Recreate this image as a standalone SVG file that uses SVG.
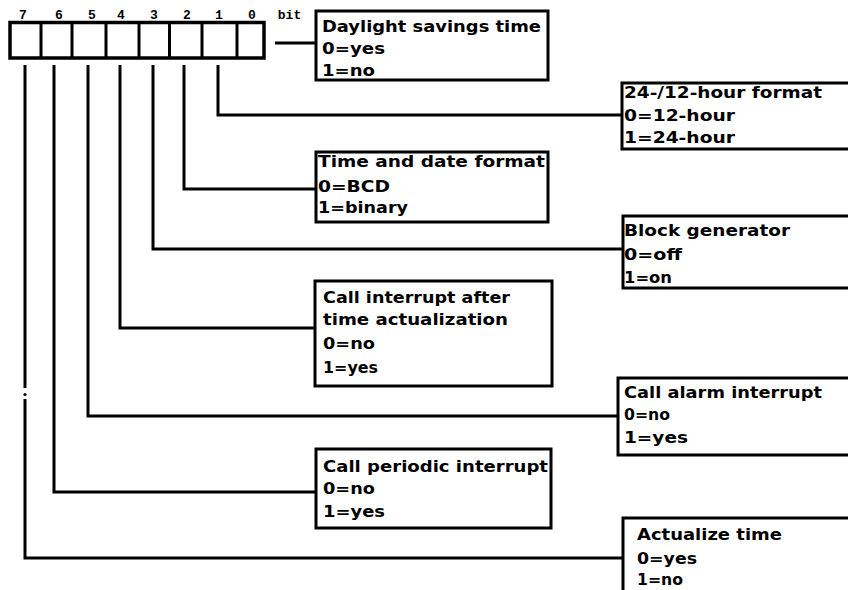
<svg xmlns="http://www.w3.org/2000/svg" width="848" height="590" viewBox="0 0 848 590">
<style>
.box{fill:#fff;stroke:#000;stroke-width:3}
.ln{fill:none;stroke:#000;stroke-width:3;stroke-linejoin:miter}
.t{font-family:"DejaVu Sans","Liberation Sans",Arial,sans-serif;font-weight:bold;font-size:15px;fill:#000}
.b{font-family:"Liberation Mono","Courier New",monospace;font-weight:bold;font-size:13px;fill:#000;text-anchor:middle}
</style>
<rect width="848" height="590" fill="#fff"/>
<g id="register">
<rect x="10" y="22.5" width="254" height="35.5" fill="#fff" stroke="#000" stroke-width="3.5"/>
<path class="ln" stroke-width="4" d="M41 22V58M72 22V58M106 22V58M139 22V58M169.5 22V58M202 22V58M237 22V58"/>
<text class="b" x="23" y="19">7</text>
<text class="b" x="59" y="19">6</text>
<text class="b" x="92" y="19">5</text>
<text class="b" x="121" y="19">4</text>
<text class="b" x="154" y="19">3</text>
<text class="b" x="187" y="19">2</text>
<text class="b" x="219" y="19">1</text>
<text class="b" x="252" y="19">0</text>
<text class="b" x="289.5" y="19">bit</text>
</g>
<g id="connectors">
<path class="ln" d="M275 43H316"/>
<path class="ln" d="M218 65V115H622"/>
<path class="ln" d="M184 65V189H316"/>
<path class="ln" d="M153 65V249H622"/>
<path class="ln" d="M120 65V328H315"/>
<path class="ln" d="M88 65V416H618"/>
<path class="ln" d="M54 65V492H316"/>
<path class="ln" d="M25 65V388M25 399V558H623"/>
<circle cx="25" cy="394.5" r="1.6" fill="#000"/>
</g>
<g id="n0">
<rect class="box" x="316" y="11" width="232" height="69"/>
<text class="t" x="322" y="32" textLength="219" lengthAdjust="spacingAndGlyphs">Daylight savings time</text>
<text class="t" x="322" y="54" textLength="63" lengthAdjust="spacingAndGlyphs">0=yes</text>
<text class="t" x="322" y="76" textLength="53" lengthAdjust="spacingAndGlyphs">1=no</text>
</g>
<g id="n1">
<rect class="box" x="622" y="83" width="240" height="66"/>
<text class="t" x="624" y="98" textLength="198" lengthAdjust="spacingAndGlyphs">24-/12-hour   format</text>
<text class="t" x="624" y="121" textLength="111" lengthAdjust="spacingAndGlyphs">0=12-hour</text>
<text class="t" x="624" y="143" textLength="111" lengthAdjust="spacingAndGlyphs">1=24-hour</text>
</g>
<g id="n2">
<rect class="box" x="316" y="152" width="232" height="70"/>
<text class="t" x="318" y="167" textLength="227" lengthAdjust="spacingAndGlyphs">Time and date format</text>
<text class="t" x="318" y="192" textLength="72" lengthAdjust="spacingAndGlyphs">0=BCD</text>
<text class="t" x="318" y="213" textLength="90" lengthAdjust="spacingAndGlyphs">1=binary</text>
</g>
<g id="n3">
<rect class="box" x="623" y="216" width="240" height="72"/>
<text class="t" x="624" y="236" textLength="166" lengthAdjust="spacingAndGlyphs">Block generator</text>
<text class="t" x="624" y="260" textLength="58" lengthAdjust="spacingAndGlyphs">0=off</text>
<text class="t" x="624" y="283" textLength="48" lengthAdjust="spacingAndGlyphs">1=on</text>
</g>
<g id="n4">
<rect class="box" x="315" y="281" width="237" height="105"/>
<text class="t" x="323" y="303" textLength="187" lengthAdjust="spacingAndGlyphs">Call interrupt after</text>
<text class="t" x="323" y="325" textLength="185" lengthAdjust="spacingAndGlyphs">time actualization</text>
<text class="t" x="323" y="349" textLength="52" lengthAdjust="spacingAndGlyphs">0=no</text>
<text class="t" x="323" y="373" textLength="55" lengthAdjust="spacingAndGlyphs">1=yes</text>
</g>
<g id="n5">
<rect class="box" x="618" y="378" width="240" height="77"/>
<text class="t" x="624" y="398" textLength="198" lengthAdjust="spacingAndGlyphs">Call alarm interrupt</text>
<text class="t" x="624" y="420" textLength="46" lengthAdjust="spacingAndGlyphs">0=no</text>
<text class="t" x="624" y="443" textLength="64" lengthAdjust="spacingAndGlyphs">1=yes</text>
</g>
<g id="n6">
<rect class="box" x="316" y="449" width="235" height="79"/>
<text class="t" x="323" y="472" textLength="225" lengthAdjust="spacingAndGlyphs">Call periodic interrupt</text>
<text class="t" x="323" y="494" textLength="52" lengthAdjust="spacingAndGlyphs">0=no</text>
<text class="t" x="323" y="517" textLength="62" lengthAdjust="spacingAndGlyphs">1=yes</text>
</g>
<g id="n7">
<rect class="box" x="623" y="518" width="240" height="90"/>
<text class="t" x="637" y="540" textLength="145" lengthAdjust="spacingAndGlyphs">Actualize time</text>
<text class="t" x="637" y="564" textLength="60" lengthAdjust="spacingAndGlyphs">0=yes</text>
<text class="t" x="637" y="585" textLength="46" lengthAdjust="spacingAndGlyphs">1=no</text>
</g>
</svg>
